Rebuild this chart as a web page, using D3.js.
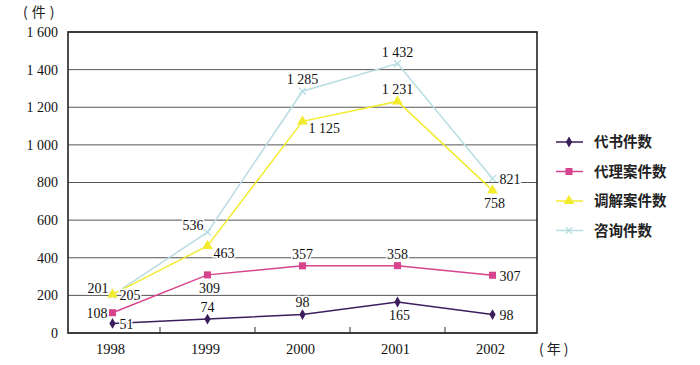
<!DOCTYPE html>
<html><head><meta charset="utf-8">
<script src="https://cdn.jsdelivr.net/npm/d3@7"></script>
<style>
html,body{margin:0;padding:0;background:#fff;}
svg{display:block;}
</style></head>
<body>
<svg id="chart" width="700" height="365"></svg>
<script>
// ---- data ----
const years = ["1998", "1999", "2000", "2001", "2002"];
const yTicks = [0, 200, 400, 600, 800, 1000, 1200, 1400, 1600];
const seriesNames = ["代书件数", "代理案件数", "调解案件数", "咨询件数"];
const daishu  = [51, 74, 98, 165, 98];
const daili   = [108, 309, 357, 358, 307];
const tiaojie = [205, 463, 1125, 1231, 758];
const zixun   = [201, 536, 1285, 1432, 821];
// label placement codes per point
const daishuPlace  = ["r", "t", "t", "b", "r"];
const dailiPlace   = ["l", "b", "t", "t", "r"];
const tiaojiePlace = ["r", "br", "br", "t", "b"];
const zixunPlace   = ["tl", "tl", "t", "t", "r"];

// ---- style ----
const series = [
  {name: seriesNames[0], values: daishu,  place: daishuPlace,  color: "#3b1d5c", symbol: d3.symbolDiamond, size: 34, stroke: false},
  {name: seriesNames[1], values: daili,   place: dailiPlace,   color: "#d6448e", symbol: d3.symbolSquare,  size: 50, stroke: false},
  {name: seriesNames[2], values: tiaojie, place: tiaojiePlace, color: "#f3eb30", symbol: d3.symbolTriangle, size: 50, stroke: false},
  {name: seriesNames[3], values: zixun,   place: zixunPlace,   color: "#b7dde2", symbol: d3.symbolTimes,   size: 30, stroke: true}
];
const places = {
  t:  {dx: 0,  dy: -12, anchor: "middle"},
  b:  {dx: 2,  dy: 13,  anchor: "middle"},
  l:  {dx: -5, dy: 0,   anchor: "end"},
  r:  {dx: 7,  dy: 1,   anchor: "start"},
  tl: {dx: -4, dy: -7,  anchor: "end"},
  br: {dx: 6,  dy: 7,   anchor: "start"}
};
const serif = "'Liberation Serif','DejaVu Serif',serif";
const cjk = "'Noto Sans CJK SC','Noto Sans',sans-serif";

const pL = 68, pR = 537, pT = 32, pB = 333;
const svg = d3.select("#chart");

const x = d3.scaleBand().domain(years).range([65, 540]);
const y = d3.scaleLinear().domain([0, 1600]).range([pB, pT]);
const cx = d => x(d) + x.bandwidth() / 2;
const fmt = d3.formatLocale({decimal: ".", thousands: " ", grouping: [3], currency: ["", ""]}).format(",d");

// gridlines
svg.append("g").selectAll("line").data(yTicks).join("line")
  .attr("x1", pL).attr("x2", pR)
  .attr("y1", d => y(d)).attr("y2", d => y(d))
  .attr("stroke", "#555").attr("stroke-width", 1);

// y labels
svg.append("g").selectAll("text").data(yTicks).join("text")
  .attr("x", 58).attr("y", d => y(d)).attr("dy", "0.35em")
  .attr("text-anchor", "end").attr("font-family", serif).attr("font-size", 14)
  .attr("fill", "#111").text(d => fmt(d));

// x tick marks at band boundaries (inside)
svg.append("g").selectAll("line").data(years.slice(1)).join("line")
  .attr("x1", d => x(d)).attr("x2", d => x(d))
  .attr("y1", pB).attr("y2", pB - 6)
  .attr("stroke", "#333").attr("stroke-width", 1);

// x labels
svg.append("g").selectAll("text").data(years).join("text")
  .attr("x", d => cx(d) - 2).attr("y", 354)
  .attr("text-anchor", "middle").attr("font-family", serif).attr("font-size", 14.5)
  .attr("fill", "#111").text(d => d);

// frame
svg.append("rect").attr("x", pL).attr("y", pT)
  .attr("width", pR - pL).attr("height", pB - pT)
  .attr("fill", "none").attr("stroke", "#222").attr("stroke-width", 1.6);

// unit labels
svg.append("text").attr("x", 23).attr("y", 17).attr("font-family", cjk)
  .attr("font-size", 14).attr("fill", "#222").attr("letter-spacing", 4).text("(件)");
svg.append("text").attr("x", 539).attr("y", 354).attr("font-family", cjk)
  .attr("font-size", 14).attr("fill", "#222").attr("letter-spacing", 3).text("(年)");

const line = d3.line().x((d, i) => cx(years[i])).y(d => y(d));

// draw series bottom-up (last legend item first)
series.slice().reverse().forEach(s => {
  const g = svg.append("g");
  g.append("path").attr("d", line(s.values)).attr("fill", "none")
    .attr("stroke", s.color).attr("stroke-width", 1.5);
  g.selectAll("path.m").data(s.values).join("path").attr("class", "m")
    .attr("transform", (d, i) => `translate(${cx(years[i])},${y(d)})`)
    .attr("d", d3.symbol().type(s.symbol).size(s.size))
    .attr("fill", s.stroke ? "none" : s.color)
    .attr("stroke", s.stroke ? s.color : "none").attr("stroke-width", 1.4);
});

// value labels
series.forEach(s => {
  svg.append("g").selectAll("text").data(s.values).join("text")
    .attr("x", (d, i) => cx(years[i]) + places[s.place[i]].dx)
    .attr("y", (d, i) => y(d) + places[s.place[i]].dy)
    .attr("dy", "0.35em")
    .attr("text-anchor", (d, i) => places[s.place[i]].anchor)
    .attr("font-family", serif).attr("font-size", 14).attr("fill", "#111")
    .attr("stroke", "#fff").attr("stroke-width", 3).attr("paint-order", "stroke")
    .text(d => fmt(d));
});

// legend
const lg = svg.append("g").selectAll("g").data(series).join("g")
  .attr("transform", (d, i) => `translate(0,${142 + i * 29.5})`);
lg.append("line").attr("x1", 556).attr("x2", 583).attr("y1", 0).attr("y2", 0)
  .attr("stroke", d => d.color).attr("stroke-width", 1.5);
lg.append("path").attr("transform", "translate(569,0)")
  .attr("d", d => d3.symbol().type(d.symbol).size(d.size)())
  .attr("fill", d => d.stroke ? "none" : d.color)
  .attr("stroke", d => d.stroke ? d.color : "none").attr("stroke-width", 1.4);
lg.append("text").attr("x", 594).attr("y", 0).attr("dy", "0.36em")
  .attr("font-family", cjk).attr("font-size", 14.5).attr("font-weight", "bold")
  .attr("fill", "#222").text(d => d.name);
</script>
</body></html>
